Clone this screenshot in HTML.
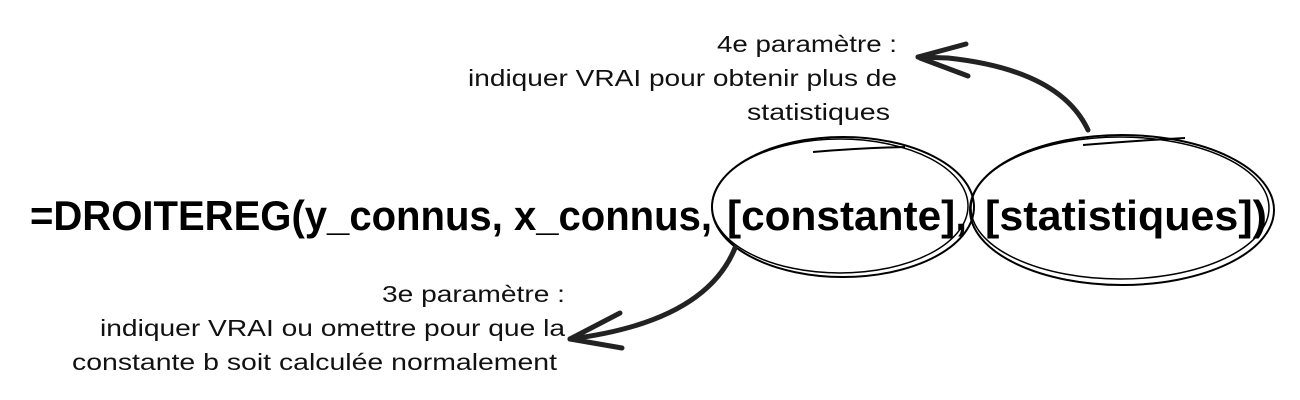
<!DOCTYPE html>
<html><head><meta charset="utf-8"><style>
html,body{margin:0;padding:0;background:#fff;}
svg{display:block}
</style></head><body>
<svg width="1300" height="400" viewBox="0 0 1300 400" xmlns="http://www.w3.org/2000/svg">
<g font-family="Liberation Sans, sans-serif" font-size="23" fill="#111">
<text x="717" y="52" textLength="180" lengthAdjust="spacingAndGlyphs">4e paramètre :</text>
<text x="468" y="86" textLength="429" lengthAdjust="spacingAndGlyphs">indiquer VRAI pour obtenir plus de</text>
<text x="747" y="120" textLength="143" lengthAdjust="spacingAndGlyphs">statistiques</text>
<text x="382" y="302" textLength="183" lengthAdjust="spacingAndGlyphs">3e paramètre :</text>
<text x="100" y="336" textLength="465" lengthAdjust="spacingAndGlyphs">indiquer VRAI ou omettre pour que la</text>
<text x="72" y="370" textLength="485" lengthAdjust="spacingAndGlyphs">constante b soit calculée normalement</text>
</g>
<g font-family="Liberation Sans, sans-serif" font-weight="bold" font-size="42" fill="#000">
<text x="30" y="230" textLength="682" lengthAdjust="spacingAndGlyphs">=DROITEREG(y_connus, x_connus,</text>
<text x="727" y="230" textLength="240" lengthAdjust="spacingAndGlyphs">[constante],</text>
<text x="985" y="230" textLength="282" lengthAdjust="spacingAndGlyphs">[statistiques])</text>
</g>
<g fill="none" stroke="#000" stroke-width="2">
<ellipse cx="843" cy="207" rx="131" ry="70"/>
<ellipse cx="840" cy="206" rx="128" ry="67" stroke-width="1.5"/>
<path d="M813 152 Q860 148 905 147"/>
<ellipse cx="1122" cy="210" rx="152" ry="75"/>
<ellipse cx="1120" cy="208" rx="149" ry="71" stroke-width="1.5"/>
<path d="M1083 145 Q1130 141 1185 138"/>
</g>
<g fill="none" stroke="#222" stroke-width="5" stroke-linecap="round">
<path d="M1088 130 Q1060 70 948 58 L918 57"/>
<path d="M918 57 L966 44"/>
<path d="M920 58 L968 76"/>
<path d="M735 248 Q705 322 570 339"/>
<path d="M570 339 L620 313"/>
<path d="M570 339 L622 348"/>
</g>
</svg>
</body></html>
